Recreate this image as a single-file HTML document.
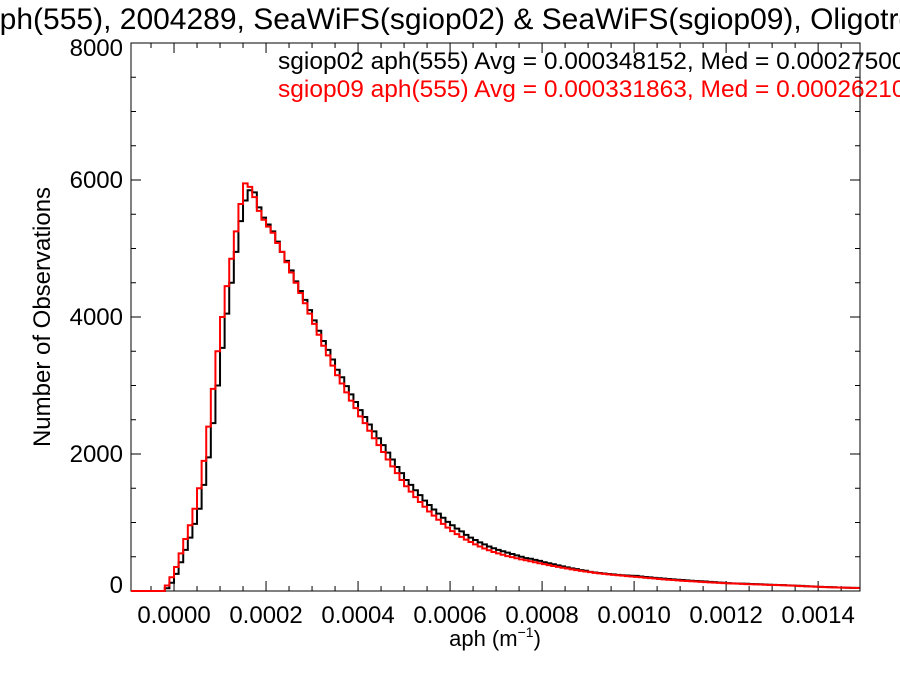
<!DOCTYPE html>
<html><head><meta charset="utf-8"><style>
body{margin:0;background:#fff}
svg{display:block;font-family:"Liberation Sans",sans-serif}
</style></head><body>
<svg id="chart" width="900" height="675" viewBox="0 0 900 675" xmlns="http://www.w3.org/2000/svg">
<text x="-17" y="29" font-size="30" fill="#000">aph(555), 2004289, SeaWiFS(sgiop02) &amp; SeaWiFS(sgiop09), Oligotrophic</text>
<text x="278" y="69" font-size="24.5" fill="#000">sgiop02 aph(555) Avg = 0.000348152, Med = 0.000275000</text>
<text x="278" y="97" font-size="24.5" fill="#ff0000">sgiop09 aph(555) Avg = 0.000331863, Med = 0.000262100</text>
<text transform="translate(50,317) rotate(-90)" text-anchor="middle" font-size="24">Number of Observations</text>
<text x="495" y="646" text-anchor="middle" font-size="22">aph (m<tspan font-size="14" dy="-9">−1</tspan><tspan dy="9">)</tspan></text>
<g id="axes"></g>
<g id="series"></g>
</svg>
<script>
const binStart = -0.00003;
const binWidth = 0.00001;
const xTicks = [0, 0.0002, 0.0004, 0.0006, 0.0008, 0.0010, 0.0012, 0.0014];
const xTickLabels = ["0.0000","0.0002","0.0004","0.0006","0.0008","0.0010","0.0012","0.0014"];
const yTicks = [0, 2000, 4000, 6000, 8000];
const yTickLabels = ["0","2000","4000","6000","8000"];
const sgiop02 = [0,40,120,250,420,600,780,980,1200,1550,1950,2450,3000,3550,4050,4500,4950,5400,5700,5850,5820,5600,5450,5350,5250,5100,4950,4820,4680,4520,4380,4250,4100,3950,3800,3650,3520,3380,3230,3120,2990,2870,2760,2640,2540,2430,2330,2230,2130,2020,1920,1810,1720,1620,1550,1470,1400,1320,1255,1190,1130,1070,1010,960,910,870,820,780,745,710,680,650,625,600,
580,560,540,520,500,480,470,455,440,420,405,390,375,360,345,330,320,305,295,280,270,262,255,248,242,236,230,226,222,220,212,205,198,192,186,180,175,170,165,160,155,150,146,142,138,134,130,125,120,115,112,110,108,105,102,100,98,95,92,90,88,85,82,80,77,74,70,67,64,60,58,56,54,52,50,48,46,45];
const sgiop09 = [0,80,200,350,550,760,960,1200,1500,1900,2400,2950,3500,4000,4450,4850,5250,5650,5950,5900,5750,5550,5420,5320,5230,5080,4950,4800,4650,4500,4350,4200,4050,3900,3740,3580,3440,3290,3150,3030,2900,2780,2670,2550,2450,2340,2230,2130,2030,1920,1820,1720,1620,1530,1450,1370,1300,1230,1160,1100,1040,980,925,875,830,790,750,715,680,650,620,595,570,550,
530,510,495,478,462,448,435,420,405,392,378,365,352,340,328,316,305,294,284,275,265,257,250,243,236,230,224,218,212,206,200,194,188,182,176,170,165,160,155,150,146,142,138,134,130,126,122,118,115,112,110,107,104,101,98,96,94,92,90,88,86,84,81,78,75,72,69,66,63,60,57,55,53,51,49,47,45,44];

const L=131,R=860,T=43,B=591;
const xMin=-0.0000935, xMax=0.001491, yMax=8000;
function sx(v){return L+(v-xMin)/(xMax-xMin)*(R-L);}
function sy(v){return B-v/yMax*(B-T);}
const NS="http://www.w3.org/2000/svg";
function mk(tag,attrs,parent){const e=document.createElementNS(NS,tag);for(const k in attrs)e.setAttribute(k,attrs[k]);parent.appendChild(e);return e;}
const axes=document.getElementById('axes');
const frame=mk('rect',{x:L,y:T,width:R-L,height:B-T,fill:'none',stroke:'#000','stroke-width':1},axes);


let d='';
for(let v=-0.00005; v<=xMax+1e-12; v+=0.00005){
  const x=sx(v); if(x<L-0.5)continue;
  const major=Math.abs(Math.round(v/0.0002)*0.0002-v)<1e-9;
  const len=major?10:5;
  d+=`M${x},${B}v${-len}M${x},${T}v${len}`;
}
for(let v=0; v<=yMax; v+=500){
  const y=sy(v); const major=v%2000===0; const len=major?10:5;
  d+=`M${L},${y}h${len}M${R},${y}h${-len}`;
}
const ticks=mk('path',{d:d,stroke:'#000','stroke-width':1,fill:'none'},axes);


xTicks.forEach((v,i)=>{
  const t=mk('text',{x:sx(v),y:623,'text-anchor':'middle','font-size':24},axes);
  t.textContent=xTickLabels[i];
  
  
});
yTicks.forEach((v,i)=>{
  let y=sy(v)+8;
  if(v===0)y=sy(v)+2;
  if(v===yMax)y=56;
  const t=mk('text',{x:123,y:y,'text-anchor':'end','font-size':24},axes);
  t.textContent=yTickLabels[i];
  
  
});
function stepPath(vals){
  let p=`M${L},${sy(0)}`;
  vals.forEach((v,i)=>{
    const x0=sx(binStart+i*binWidth), x1=sx(binStart+(i+1)*binWidth);
    p+=`L${x0},${sy(v)}L${x1},${sy(v)}`;
  });
  return p;
}
const series=document.getElementById('series');
const s1=mk('path',{d:stepPath(sgiop02),stroke:'#000','stroke-width':2,fill:'none'},series);


const s2=mk('path',{d:stepPath(sgiop09),stroke:'#ff0000','stroke-width':2,fill:'none'},series);


</script>
</body></html>
